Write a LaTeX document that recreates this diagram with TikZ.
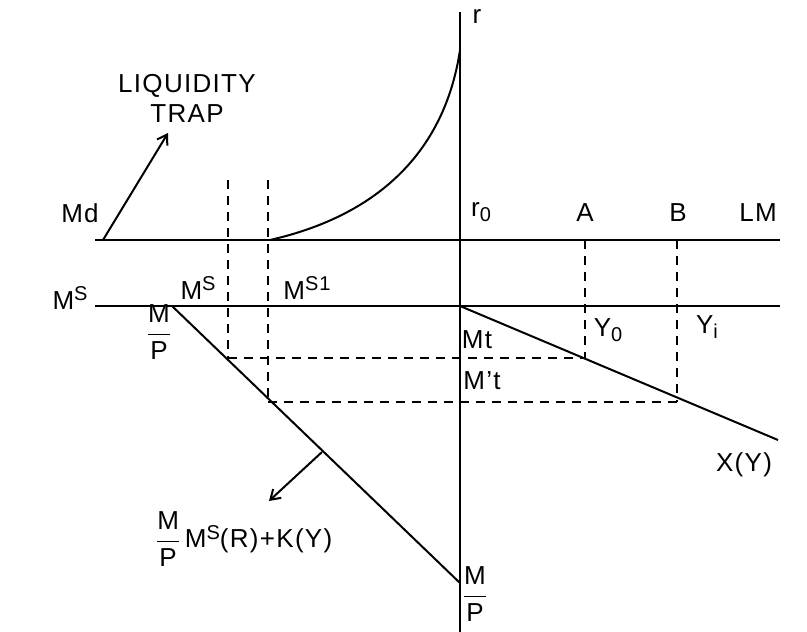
\documentclass[tikz,border=0pt]{standalone}
\usepackage{fontspec}
\setmainfont[LetterSpace=5]{Liberation Sans}
\usetikzlibrary{arrows.meta}
\newcommand\supx[1]{\raisebox{0.6ex}{\fontsize{15}{15}\selectfont #1}}
\newcommand\subx[1]{\raisebox{-0.35ex}{\fontsize{15}{15}\selectfont #1}}
\newcommand\fracMP{$\displaystyle\frac{\mbox{M}}{\mbox{P}}$}
\begin{document}
\begin{tikzpicture}[x=0.75pt,y=-0.75pt,
  ln/.style={line width=1.5pt,black},
  dsh/.style={line width=1.5pt,dash pattern=on 7pt off 5pt},
  lbl/.style={font=\fontsize{19.5}{21}\selectfont,inner sep=1pt},
  arr/.style={line width=1.5pt,-{Straight Barb[length=7pt,width=9pt]}}]
\useasboundingbox (0,0) rectangle (807,632);
% coordinates
\coordinate (axT) at (460,12);
\coordinate (axB) at (460,632);
\coordinate (lmL) at (95,240);
\coordinate (lmR) at (780,240);
\coordinate (msL) at (95,306);
\coordinate (msR) at (780,306);
\coordinate (o) at (460,306);
\coordinate (cS) at (270,240);
\coordinate (cE) at (460,50);
\coordinate (dS) at (172,306);
\coordinate (dE) at (460,583);
\coordinate (xE) at (778,440);
\coordinate (d1T) at (228,180);
\coordinate (d1B) at (228,358);
\coordinate (d2T) at (268,180);
\coordinate (d2B) at (268,402);
\coordinate (pA) at (585,358);
\coordinate (pB) at (677,402);
\coordinate (aT) at (585,240);
\coordinate (bT) at (677,240);
\coordinate (mdS) at (103,240);
\coordinate (mdE) at (168,133);
\coordinate (fS) at (322,452);
\coordinate (fE) at (269,501);
% axes and lines
\draw[ln] (axB) -- (axT);
\draw[ln] (lmL) -- (lmR);
\draw[ln] (msL) -- (msR);
\draw[ln] (cS) .. controls (380,215) and (445,150) .. (cE);
\draw[ln] (dS) -- (dE);
\draw[ln] (o) -- (xE);
% dashed
\draw[dsh] (d1T) -- (d1B);
\draw[dsh] (d2T) -- (d2B);
\draw[dsh] (d1B) -- (pA);
\draw[dsh] (d2B) -- (pB);
\draw[dsh] (aT) -- (pA);
\draw[dsh] (bT) -- (pB);
% arrows
\draw[arr] (mdS) -- (mdE);
\draw[arr] (fS) -- (fE);
% labels
\node[lbl] (r) at (477,17) {r};
\node[lbl] (trap1) at (187,86) {LIQUIDITY};
\node[lbl] (trap2) at (187,114) {TRAP};
\node[lbl] (md) at (80,213) {Md};
\node[lbl] (r0) at (481,212) {r\subx{0}};
\node[lbl] (la) at (585,213) {A};
\node[lbl] (lb) at (678,213) {B};
\node[lbl] (llm) at (758,213) {LM};
\node[lbl] (ms0) at (70,298) {M\supx{S}};
\node[lbl] (ms1) at (198,288) {M\supx{S}};
\node[lbl] (ms2) at (307,288) {M\supx{S1}};
\node[lbl] (mp1) at (159,332) {\fracMP};
\node[lbl] (mt) at (477,340) {Mt};
\node[lbl] (mpt) at (482,381) {M’t};
\node[lbl] (y0) at (608,330) {Y\subx{0}};
\node[lbl] (yi) at (707,327) {Y\subx{i}};
\node[lbl] (xy) at (744,465) {X(Y)};
\node[lbl] (form) at (244,539) {\fracMP\,M\supx{S}(R)+K(Y)};
\node[lbl] (mp2) at (475,594) {\fracMP};
\end{tikzpicture}
\end{document}
